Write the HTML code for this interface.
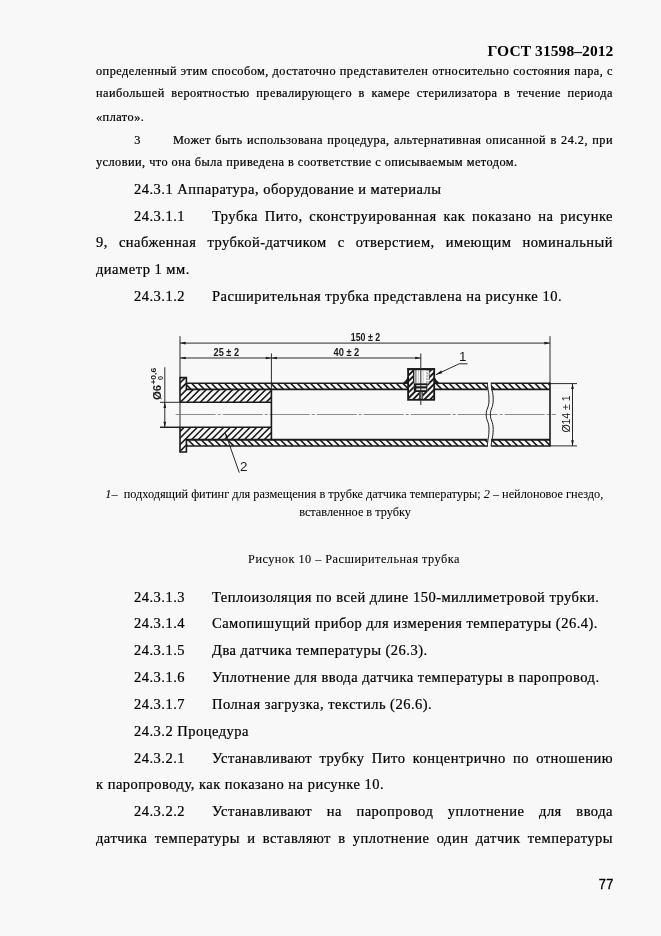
<!DOCTYPE html>
<html lang="ru">
<head>
<meta charset="utf-8">
<title>ГОСТ 31598–2012</title>
<style>
html,body{margin:0;padding:0;}
body{width:661px;height:936px;background:#f8f8f8;position:relative;overflow:hidden;
  font-family:"Liberation Serif",serif;color:#000;}
.l{-webkit-text-stroke:0.22px #000;}
.l{position:absolute;white-space:nowrap;line-height:20px;height:20px;}
.j{text-align:justify;text-align-last:justify;white-space:normal;}
.s{font-size:12.3px;letter-spacing:0.46px;}
.b{font-size:14.5px;letter-spacing:0.49px;}
.c{font-size:12.3px;letter-spacing:-0.02px;-webkit-text-stroke:0.06px #000;}
.hd{font-weight:bold;font-size:15.5px;text-align:right;-webkit-text-stroke:0;letter-spacing:0.08px;}
.pg{font-family:"Liberation Sans",sans-serif;font-size:14.6px;text-align:right;color:#000;transform:scaleX(0.875);transform-origin:100% 50%;-webkit-text-stroke:0.35px #000;letter-spacing:0.3px;}
svg{position:absolute;left:0;top:0;}
#wrap{position:absolute;left:0;top:0;width:661px;height:936px;will-change:transform;}
</style>
</head>
<body>
<div id="wrap">
<div class="l hd" style="left:400px;width:213.4px;top:40.8px;">ГОСТ 31598–2012</div>

<div class="l s j" style="left:96px;width:517px;top:61.4px;">определенный этим способом, достаточно представителен относительно состояния пара, с</div>
<div class="l s j" style="left:96px;width:517px;top:82.7px;">наибольшей вероятностью превалирующего в камере стерилизатора в течение периода</div>
<div class="l s" style="left:96px;top:107.4px;">«плато».</div>
<div class="l s" style="left:134.2px;top:129.7px;">3</div>
<div class="l s j" style="left:173px;width:440px;top:129.7px;">Может быть использована процедура, альтернативная описанной в 24.2, при</div>
<div class="l s" style="left:96px;top:151.6px;">условии, что она была приведена в соответствие с описываемым методом.</div>

<div class="l b" style="left:134px;top:178.7px;">24.3.1 Аппаратура, оборудование и материалы</div>
<div class="l b" style="left:134px;top:206px;">24.3.1.1</div>
<div class="l b j" style="left:212px;width:401px;top:206px;">Трубка Пито, сконструированная как показано на рисунке</div>
<div class="l b j" style="left:96px;width:517px;top:232px;">9, снабженная трубкой-датчиком с отверстием, имеющим номинальный</div>
<div class="l b" style="left:96px;top:259.4px;">диаметр 1 мм.</div>
<div class="l b" style="left:134px;top:286px;">24.3.1.2</div>
<div class="l b" style="left:212px;top:286px;">Расширительная трубка представлена на рисунке 10.</div>

<div class="l c" style="left:105.3px;top:484px;"><i>1</i>–&nbsp; подходящий фитинг для размещения в трубке датчика температуры; <i>2</i> – нейлоновое гнездо,</div>
<div class="l c" style="left:0;width:710px;text-align:center;top:502px;">вставленное в трубку</div>
<div class="l s" style="left:0;width:708px;text-align:center;top:548.6px;-webkit-text-stroke:0.08px #000;">Рисунок 10 – Расширительная трубка</div>

<div class="l b" style="left:134px;top:586.5px;">24.3.1.3</div>
<div class="l b" style="left:212px;top:586.5px;">Теплоизоляция по всей длине 150-миллиметровой трубки.</div>
<div class="l b" style="left:134px;top:612.9px;">24.3.1.4</div>
<div class="l b" style="left:212px;top:612.9px;">Самопишущий прибор для измерения температуры (26.4).</div>
<div class="l b" style="left:134px;top:640.3px;">24.3.1.5</div>
<div class="l b" style="left:212px;top:640.3px;">Два датчика температуры (26.3).</div>
<div class="l b" style="left:134px;top:667px;">24.3.1.6</div>
<div class="l b" style="left:212px;top:667px;">Уплотнение для ввода датчика температуры в паропровод.</div>
<div class="l b" style="left:134px;top:693.7px;">24.3.1.7</div>
<div class="l b" style="left:212px;top:693.7px;">Полная загрузка, текстиль (26.6).</div>
<div class="l b" style="left:134px;top:720.5px;">24.3.2 Процедура</div>
<div class="l b" style="left:134px;top:747.5px;">24.3.2.1</div>
<div class="l b j" style="left:212px;width:401px;top:747.5px;">Устанавливают трубку Пито концентрично по отношению</div>
<div class="l b" style="left:96px;top:774.2px;">к паропроводу, как показано на рисунке 10.</div>
<div class="l b" style="left:134px;top:801.2px;">24.3.2.2</div>
<div class="l b j" style="left:212px;width:401px;top:801.2px;">Устанавливают на паропровод уплотнение для ввода</div>
<div class="l b j" style="left:96px;width:517px;top:827.8px;">датчика температуры и вставляют в уплотнение один датчик температуры</div>

<div class="l pg" style="left:500px;width:113.6px;top:873.9px;">77</div>

<svg id="fig" width="661" height="936" viewBox="0 0 661 936">
<defs>
<clipPath id="cInsT"><polygon points="180.0,377.6 186.4,377.6 186.4,389.4 271.4,389.4 271.4,402.3 180.0,402.3"/></clipPath>
<clipPath id="cInsB"><polygon points="180.0,452.0 186.4,452.0 186.4,439.7 271.4,439.7 271.4,427.3 180.0,427.3"/></clipPath>
<clipPath id="cWallT"><path d="M186.4,383.3 L487.4,383.3 L487.9,389.4 L186.4,389.4 Z M491.2,383.3 L550.0,383.3 L550.0,389.4 L491.7,389.4 Z"/></clipPath>
<clipPath id="cWallB"><path d="M186.4,439.7 L487.4,439.7 L487.4,445.9 L186.4,445.9 Z M491.2,439.7 L550.0,439.7 L550.0,445.9 L491.2,445.9 Z"/></clipPath>
</defs>
<path clip-path="url(#cInsT)" d="M154.00,402.30 L178.70,377.60 M160.60,402.30 L185.30,377.60 M167.20,402.30 L191.90,377.60 M173.80,402.30 L198.50,377.60 M180.40,402.30 L205.10,377.60 M187.00,402.30 L211.70,377.60 M193.60,402.30 L218.30,377.60 M200.20,402.30 L224.90,377.60 M206.80,402.30 L231.50,377.60 M213.40,402.30 L238.10,377.60 M220.00,402.30 L244.70,377.60 M226.60,402.30 L251.30,377.60 M233.20,402.30 L257.90,377.60 M239.80,402.30 L264.50,377.60 M246.40,402.30 L271.10,377.60 M253.00,402.30 L277.70,377.60 M259.60,402.30 L284.30,377.60 M266.20,402.30 L290.90,377.60 M272.80,402.30 L297.50,377.60 M279.40,402.30 L304.10,377.60 M286.00,402.30 L310.70,377.60 M292.60,402.30 L317.30,377.60 M299.20,402.30 L323.90,377.60" stroke="#1a1a1a" stroke-width="1.6" fill="none"/>
<path clip-path="url(#cInsB)" d="M152.90,452.00 L177.60,427.30 M159.50,452.00 L184.20,427.30 M166.10,452.00 L190.80,427.30 M172.70,452.00 L197.40,427.30 M179.30,452.00 L204.00,427.30 M185.90,452.00 L210.60,427.30 M192.50,452.00 L217.20,427.30 M199.10,452.00 L223.80,427.30 M205.70,452.00 L230.40,427.30 M212.30,452.00 L237.00,427.30 M218.90,452.00 L243.60,427.30 M225.50,452.00 L250.20,427.30 M232.10,452.00 L256.80,427.30 M238.70,452.00 L263.40,427.30 M245.30,452.00 L270.00,427.30 M251.90,452.00 L276.60,427.30 M258.50,452.00 L283.20,427.30 M265.10,452.00 L289.80,427.30 M271.70,452.00 L296.40,427.30 M278.30,452.00 L303.00,427.30 M284.90,452.00 L309.60,427.30 M291.50,452.00 L316.20,427.30 M298.10,452.00 L322.80,427.30" stroke="#1a1a1a" stroke-width="1.6" fill="none"/>
<path clip-path="url(#cWallT)" d="M178.40,383.30 L184.50,389.40 M185.00,383.30 L191.10,389.40 M191.60,383.30 L197.70,389.40 M198.20,383.30 L204.30,389.40 M204.80,383.30 L210.90,389.40 M211.40,383.30 L217.50,389.40 M218.00,383.30 L224.10,389.40 M224.60,383.30 L230.70,389.40 M231.20,383.30 L237.30,389.40 M237.80,383.30 L243.90,389.40 M244.40,383.30 L250.50,389.40 M251.00,383.30 L257.10,389.40 M257.60,383.30 L263.70,389.40 M264.20,383.30 L270.30,389.40 M270.80,383.30 L276.90,389.40 M277.40,383.30 L283.50,389.40 M284.00,383.30 L290.10,389.40 M290.60,383.30 L296.70,389.40 M297.20,383.30 L303.30,389.40 M303.80,383.30 L309.90,389.40 M310.40,383.30 L316.50,389.40 M317.00,383.30 L323.10,389.40 M323.60,383.30 L329.70,389.40 M330.20,383.30 L336.30,389.40 M336.80,383.30 L342.90,389.40 M343.40,383.30 L349.50,389.40 M350.00,383.30 L356.10,389.40 M356.60,383.30 L362.70,389.40 M363.20,383.30 L369.30,389.40 M369.80,383.30 L375.90,389.40 M376.40,383.30 L382.50,389.40 M383.00,383.30 L389.10,389.40 M389.60,383.30 L395.70,389.40 M396.20,383.30 L402.30,389.40 M402.80,383.30 L408.90,389.40 M409.40,383.30 L415.50,389.40 M416.00,383.30 L422.10,389.40 M422.60,383.30 L428.70,389.40 M429.20,383.30 L435.30,389.40 M435.80,383.30 L441.90,389.40 M442.40,383.30 L448.50,389.40 M449.00,383.30 L455.10,389.40 M455.60,383.30 L461.70,389.40 M462.20,383.30 L468.30,389.40 M468.80,383.30 L474.90,389.40 M475.40,383.30 L481.50,389.40 M482.00,383.30 L488.10,389.40 M488.60,383.30 L494.70,389.40 M495.20,383.30 L501.30,389.40 M501.80,383.30 L507.90,389.40 M508.40,383.30 L514.50,389.40 M515.00,383.30 L521.10,389.40 M521.60,383.30 L527.70,389.40 M528.20,383.30 L534.30,389.40 M534.80,383.30 L540.90,389.40 M541.40,383.30 L547.50,389.40 M548.00,383.30 L554.10,389.40 M554.60,383.30 L560.70,389.40 M561.20,383.30 L567.30,389.40" stroke="#1a1a1a" stroke-width="1.6" fill="none"/>
<path clip-path="url(#cWallB)" d="M174.70,439.70 L180.90,445.90 M181.30,439.70 L187.50,445.90 M187.90,439.70 L194.10,445.90 M194.50,439.70 L200.70,445.90 M201.10,439.70 L207.30,445.90 M207.70,439.70 L213.90,445.90 M214.30,439.70 L220.50,445.90 M220.90,439.70 L227.10,445.90 M227.50,439.70 L233.70,445.90 M234.10,439.70 L240.30,445.90 M240.70,439.70 L246.90,445.90 M247.30,439.70 L253.50,445.90 M253.90,439.70 L260.10,445.90 M260.50,439.70 L266.70,445.90 M267.10,439.70 L273.30,445.90 M273.70,439.70 L279.90,445.90 M280.30,439.70 L286.50,445.90 M286.90,439.70 L293.10,445.90 M293.50,439.70 L299.70,445.90 M300.10,439.70 L306.30,445.90 M306.70,439.70 L312.90,445.90 M313.30,439.70 L319.50,445.90 M319.90,439.70 L326.10,445.90 M326.50,439.70 L332.70,445.90 M333.10,439.70 L339.30,445.90 M339.70,439.70 L345.90,445.90 M346.30,439.70 L352.50,445.90 M352.90,439.70 L359.10,445.90 M359.50,439.70 L365.70,445.90 M366.10,439.70 L372.30,445.90 M372.70,439.70 L378.90,445.90 M379.30,439.70 L385.50,445.90 M385.90,439.70 L392.10,445.90 M392.50,439.70 L398.70,445.90 M399.10,439.70 L405.30,445.90 M405.70,439.70 L411.90,445.90 M412.30,439.70 L418.50,445.90 M418.90,439.70 L425.10,445.90 M425.50,439.70 L431.70,445.90 M432.10,439.70 L438.30,445.90 M438.70,439.70 L444.90,445.90 M445.30,439.70 L451.50,445.90 M451.90,439.70 L458.10,445.90 M458.50,439.70 L464.70,445.90 M465.10,439.70 L471.30,445.90 M471.70,439.70 L477.90,445.90 M478.30,439.70 L484.50,445.90 M484.90,439.70 L491.10,445.90 M491.50,439.70 L497.70,445.90 M498.10,439.70 L504.30,445.90 M504.70,439.70 L510.90,445.90 M511.30,439.70 L517.50,445.90 M517.90,439.70 L524.10,445.90 M524.50,439.70 L530.70,445.90 M531.10,439.70 L537.30,445.90 M537.70,439.70 L543.90,445.90 M544.30,439.70 L550.50,445.90 M550.90,439.70 L557.10,445.90 M557.50,439.70 L563.70,445.90" stroke="#1a1a1a" stroke-width="1.6" fill="none"/>
<path d="M180.0,336.2 V377.6 M550.0,336.2 V383.3 M271.4,353.4 V389.4 M180.0,343.1 H550.0 M180.0,358.0 H420.8 M550.0,383.6 H577 M550.0,445.9 H577 M572.5,383.3 V445.9 M164.8,367.3 V427.3 M160,402.3 H180.0 M160,427.3 H180.0 M180.0,402.3 V427.3 M225.4,433.3 L239.3,472.7 M435.8,374.7 L459.2,363.8 H467.6" stroke="#2a2a2a" stroke-width="1.0" fill="none"/>
<path d="M160,427.3 H180.0" stroke="#1a1a1a" stroke-width="1.2"/>
<polygon points="180.00,343.10 185.60,341.75 185.60,344.45" fill="#1a1a1a"/>
<polygon points="550.00,343.10 544.40,344.45 544.40,341.75" fill="#1a1a1a"/>
<polygon points="180.00,358.00 185.60,356.65 185.60,359.35" fill="#1a1a1a"/>
<polygon points="271.40,358.00 265.80,359.35 265.80,356.65" fill="#1a1a1a"/>
<polygon points="271.40,358.00 277.00,356.65 277.00,359.35" fill="#1a1a1a"/>
<polygon points="420.80,358.00 415.20,359.35 415.20,356.65" fill="#1a1a1a"/>
<polygon points="572.50,383.30 573.85,388.90 571.15,388.90" fill="#1a1a1a"/>
<polygon points="572.50,445.90 571.15,440.30 573.85,440.30" fill="#1a1a1a"/>
<polygon points="164.80,402.30 166.15,407.90 163.45,407.90" fill="#1a1a1a"/>
<polygon points="164.80,427.30 163.45,421.70 166.15,421.70" fill="#1a1a1a"/>
<polygon points="435.80,374.70 441.06,370.60 442.33,373.32" fill="#1a1a1a"/>
<polygon points="225.40,433.30 228.20,437.62 225.93,438.41" fill="#1a1a1a"/>
<path d="M175.7,414.5 H556" stroke="#6a6a6a" stroke-width="0.75" stroke-dasharray="40 2 3 2" fill="none"/>
<path d="M186.4,383.3 H487.4 M491.2,383.3 H550.0 M186.4,445.9 H487.4 M491.2,445.9 H550.0" stroke="#1a1a1a" stroke-width="1.5" fill="none"/>
<path d="M185.9,389.4 H487.4 M491.2,389.4 H550.0 M185.9,439.7 H487.4 M491.2,439.7 H550.0" stroke="#1a1a1a" stroke-width="1.9" fill="none"/>
<path d="M180.0,402.3 V377.6 H186.4 V389.4 M180.0,427.3 V452.0 H186.4 V439.7 M179.7,402.3 H271.4 M179.7,427.3 H271.4 M271.4,389.4 V439.7 M550.0,382.6 V446.59999999999997" stroke="#1a1a1a" stroke-width="1.6" fill="none" stroke-linejoin="miter"/>
<path d="M487.4,382.6 C487.4,389.00 489.0,391.56 489.0,399.88 C489.0,408.20 486.2,408.20 486.2,414.60 C486.2,421.00 489.0,421.00 489.0,429.32 C489.0,437.64 487.4,440.20 487.4,446.59999999999997" stroke="#1a1a1a" stroke-width="1.0" fill="none"/>
<path d="M491.2,382.6 C491.2,389.00 493.2,391.56 493.2,399.88 C493.2,408.20 490.4,408.20 490.4,414.60 C490.4,421.00 493.2,421.00 493.2,429.32 C493.2,437.64 491.2,440.20 491.2,446.59999999999997" stroke="#1a1a1a" stroke-width="1.0" fill="none"/>
<rect x="408.1" y="369.1" width="26.099999999999966" height="30.69999999999999" fill="#f8f8f8"/>
<clipPath id="cFit"><path fill-rule="evenodd" d="M408.1,369.1 H434.2 V399.8 H408.1 Z M413.2,369.1 V383.3 H413.8 V392.0 H419.6 V399.8 H422.6 V392.0 H427.3 V383.3 H429.2 V369.1 Z"/></clipPath>
<path clip-path="url(#cFit)" d="M372.70,399.80 L403.40,369.10 M378.40,399.80 L409.10,369.10 M384.10,399.80 L414.80,369.10 M389.80,399.80 L420.50,369.10 M395.50,399.80 L426.20,369.10 M401.20,399.80 L431.90,369.10 M406.90,399.80 L437.60,369.10 M412.60,399.80 L443.30,369.10 M418.30,399.80 L449.00,369.10 M424.00,399.80 L454.70,369.10 M429.70,399.80 L460.40,369.10 M435.40,399.80 L466.10,369.10 M441.10,399.80 L471.80,369.10 M446.80,399.80 L477.50,369.10 M452.50,399.80 L483.20,369.10 M458.20,399.80 L488.90,369.10 M463.90,399.80 L494.60,369.10 M469.60,399.80 L500.30,369.10" stroke="#1a1a1a" stroke-width="1.9" fill="none"/>
<rect x="413.8" y="383.3" width="13.5" height="8.699999999999989" fill="#1a1a1a"/>
<rect x="416.3" y="385.0" width="10.0" height="1.3" fill="#ddd"/>
<rect x="416.3" y="388.4" width="10.0" height="1.8" fill="#e4e4e4"/>
<rect x="419.6" y="392.0" width="3.0" height="7.800000000000011" fill="#bbb"/>
<path d="M419.6,392.0 V399.8 M422.6,392.0 V399.8" stroke="#1a1a1a" stroke-width="0.8" fill="none"/>
<path d="M413.7,369.1 V383.3" stroke="#1a1a1a" stroke-width="1.3" fill="none"/>
<path d="M415.9,369.1 V383.3" stroke="#333" stroke-width="0.8" fill="none"/>
<path d="M427.0,369.1 V383.3" stroke="#555" stroke-width="0.8" stroke-dasharray="2 1" fill="none"/>
<path d="M429.2,369.1 V383.3" stroke="#444" stroke-width="0.9" stroke-dasharray="3 1" fill="none"/>
<path d="M418.40000000000003,370.1 V383.3 M423.2,370.1 V383.3" stroke="#bbb" stroke-width="0.8" fill="none"/>
<rect x="408.1" y="369.1" width="26.099999999999966" height="30.69999999999999" fill="none" stroke="#1a1a1a" stroke-width="1.8"/>
<path d="M407.20000000000005,369.20000000000005 H435.09999999999997" stroke="#1a1a1a" stroke-width="2.0"/>
<path d="M420.8,353.5 V405" stroke="#2a2a2a" stroke-width="1.0"/>
<path d="M408.1,376.6 Q406.1,381.0 402.5,383.6 H408.1 Z" fill="#1a1a1a"/>
<path d="M434.2,376.6 Q436.2,381.0 440.0,383.6 H434.2 Z" fill="#1a1a1a"/>
<text x="213.6" y="355.6" font-family="Liberation Sans, sans-serif" font-size="11.2" font-weight="bold" text-anchor="start" fill="#1a1a1a" textLength="25.4" lengthAdjust="spacingAndGlyphs">25 ± 2</text>
<text x="333.5" y="355.6" font-family="Liberation Sans, sans-serif" font-size="11.2" font-weight="bold" text-anchor="start" fill="#1a1a1a" textLength="25.8" lengthAdjust="spacingAndGlyphs">40 ± 2</text>
<text x="350.8" y="341.0" font-family="Liberation Sans, sans-serif" font-size="11.2" font-weight="bold" text-anchor="start" fill="#1a1a1a" textLength="29.4" lengthAdjust="spacingAndGlyphs">150 ± 2</text>
<text x="459.0" y="361.3" font-family="Liberation Sans, sans-serif" font-size="13.4" font-weight="normal" text-anchor="start" fill="#1a1a1a">1</text>
<text x="240.0" y="470.8" font-family="Liberation Sans, sans-serif" font-size="13.4" font-weight="normal" text-anchor="start" fill="#1a1a1a">2</text>
<text x="570.3" y="432.6" font-family="Liberation Sans, sans-serif" font-size="10.4" font-weight="normal" text-anchor="start" fill="#1a1a1a" textLength="37.2" lengthAdjust="spacingAndGlyphs" transform="rotate(-90 570.3 432.6)">Ø14 ± 1</text>
<text x="161.0" y="400.0" font-family="Liberation Sans, sans-serif" font-size="10.2" font-weight="bold" text-anchor="start" fill="#1a1a1a" textLength="15.2" lengthAdjust="spacingAndGlyphs" transform="rotate(-90 161.0 400.0)">Ø6</text>
<text x="155.8" y="384.6" font-family="Liberation Sans, sans-serif" font-size="7.6" font-weight="bold" text-anchor="start" fill="#1a1a1a" textLength="16.8" lengthAdjust="spacingAndGlyphs" transform="rotate(-90 155.8 384.6)">+0,6</text>
<text x="163.3" y="380.1" font-family="Liberation Sans, sans-serif" font-size="7.2" font-weight="bold" text-anchor="start" fill="#1a1a1a" transform="rotate(-90 163.3 380.1)">0</text>
</svg>
</div>
</body>
</html>
